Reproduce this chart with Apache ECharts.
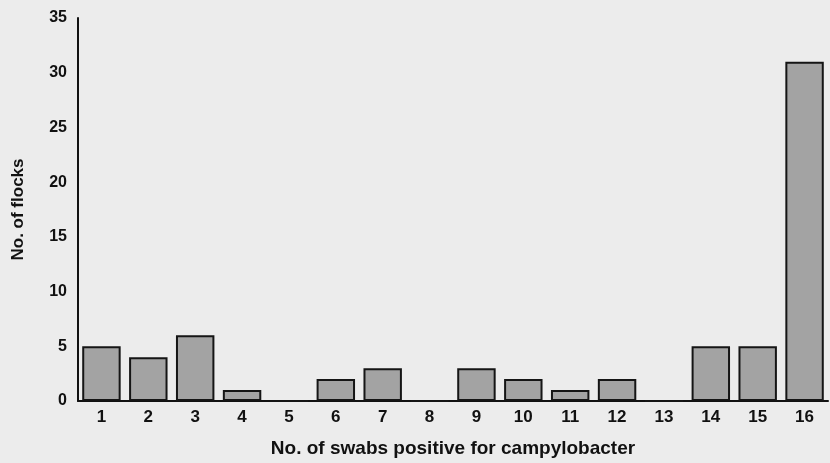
<!DOCTYPE html>
<html><head><meta charset="utf-8">
<script src="https://cdn.jsdelivr.net/npm/echarts@6/dist/echarts.min.js"></script>
<style>html,body{margin:0;padding:0;background:#ececec;}#c{width:830px;height:463px;}</style>
</head><body><div id="c"></div>
<script>
var categories = ['1','2','3','4','5','6','7','8','9','10','11','12','13','14','15','16'];
var flocks = [5,4,6,1,0,2,3,0,3,2,1,2,0,5,5,31];
var yTicks = [0,5,10,15,20,25,30,35];
var chart = echarts.init(document.getElementById('c'));
var font = 'Liberation Sans, Arial, sans-serif';
chart.setOption({
  backgroundColor: '#ececec',
  animation: false,
  grid: {left: 78, right: 2, top: 18, bottom: 55, containLabel: false},
  xAxis: {
    type: 'category', data: categories,
    name: 'No. of swabs positive for campylobacter', nameLocation: 'middle', nameGap: 38,
    nameTextStyle: {fontFamily: font, fontWeight: 'bold', fontSize: 19, color: '#111'},
    axisLine: {lineStyle: {color: '#111', width: 2}},
    axisTick: {show: false},
    axisLabel: {fontFamily: font, fontWeight: 'bold', fontSize: 17, color: '#111', margin: 8}
  },
  yAxis: {
    type: 'value', min: 0, max: 35, interval: 5,
    name: 'No. of flocks', nameLocation: 'middle', nameGap: 51,
    nameTextStyle: {fontFamily: font, fontWeight: 'bold', fontSize: 17, color: '#111'},
    axisLine: {show: true, lineStyle: {color: '#111', width: 2}},
    axisTick: {show: false},
    splitLine: {show: false},
    axisLabel: {fontFamily: font, fontWeight: 'bold', fontSize: 16, color: '#111', margin: 11,
      formatter: function(v){ return yTicks.indexOf(v) >= 0 ? String(v) : ''; }}
  },
  series: [{
    type: 'bar', data: flocks, barCategoryGap: '18%',
    itemStyle: {color: '#a3a3a3', borderColor: '#151515', borderWidth: 2}
  }]
});
</script></body></html>
